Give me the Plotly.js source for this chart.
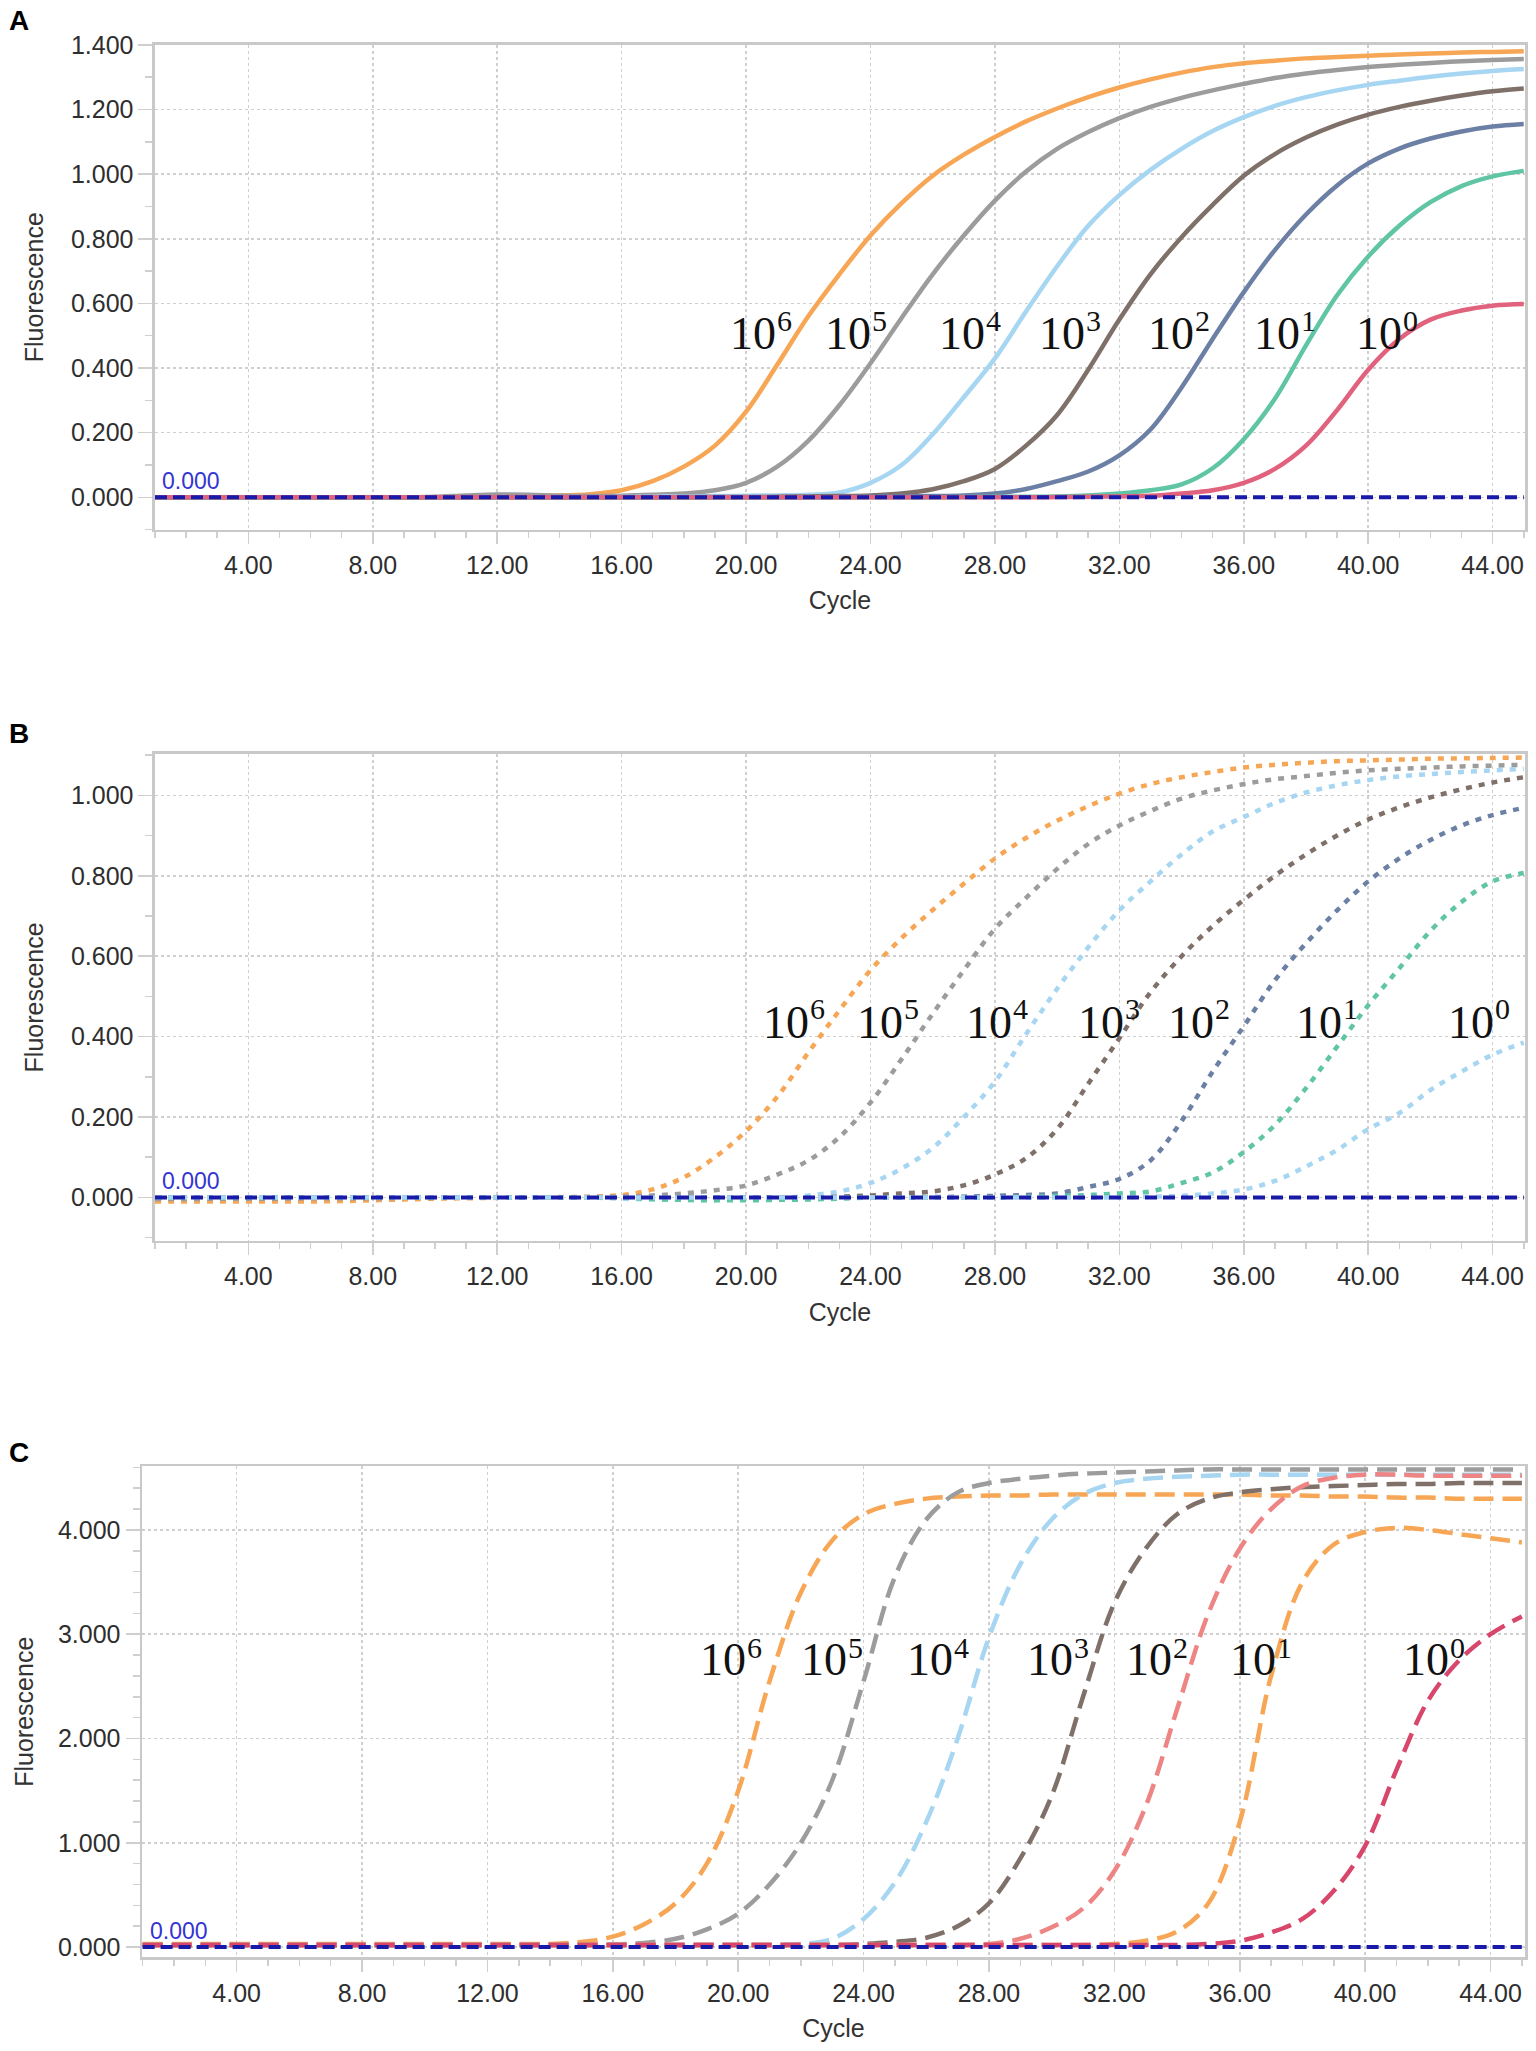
<!DOCTYPE html>
<html><head><meta charset="utf-8">
<script src="https://cdn.plot.ly/plotly-3.0.1.min.js"></script>
<style>html,body{margin:0;padding:0;background:#fff;}#chart{width:1536px;height:2051px;}</style>
</head><body><div id="chart"></div>
<script>
// ---------- DATA ----------
const cycles = [1,2,3,4,5,6,7,8,9,10,11,12,13,14,15,16,17,18,19,20,21,22,23,24,25,26,27,28,29,30,31,32,33,34,35,36,37,38,39,40,41,42,43,44,45];
const concBase = ['10','10','10','10','10','10','10'];
const concExp = ['6','5','4','3','2','1','0'];
const threshold = 0.000;

// Panel A (solid)
const a6 = [0,0,0,0,0,0,0,0,0,0, 0.002,0.004,0.006,0.006,0.01,0.022,0.05,0.095,0.16,0.265, 0.41,0.56,0.69,0.81,0.91,0.995,1.06,1.115,1.163,1.203, 1.238,1.268,1.293,1.314,1.331,1.343,1.351,1.358,1.362,1.366, 1.37,1.373,1.376,1.378,1.38];
const a5 = [0,0,0,0,0,0,0,0,0,0.002, 0.006,0.009,0.008,0.005,0.004,0.005,0.008,0.012,0.022,0.045, 0.095,0.175,0.285,0.415,0.555,0.69,0.81,0.918,1.008,1.078, 1.13,1.173,1.208,1.236,1.259,1.279,1.297,1.311,1.322,1.331, 1.338,1.344,1.349,1.353,1.356];
const a4 = [0,0,0,0,0,0,0,0,0,0, 0,0,0,0,0,0.001,0.002,0.003,0.004,0.005, 0.006,0.008,0.015,0.045,0.1,0.195,0.31,0.43,0.575,0.715, 0.84,0.935,1.013,1.078,1.133,1.176,1.211,1.238,1.259,1.276, 1.289,1.301,1.311,1.319,1.325];
const a3 = [0,0,0,0,0,0,0,0,0,0, 0,0,0,0,0,0,0,0.001,0.001,0.001, 0.002,0.003,0.004,0.006,0.012,0.025,0.05,0.088,0.16,0.255, 0.395,0.55,0.69,0.805,0.905,0.995,1.062,1.113,1.153,1.184, 1.208,1.227,1.243,1.256,1.265];
const a2 = [0,0,0,0,0,0,0,0,0,0, 0,0,0,0,0,0,0,0,0,0, 0,0,0.001,0.002,0.003,0.004,0.006,0.012,0.026,0.05, 0.08,0.13,0.21,0.34,0.49,0.635,0.765,0.875,0.965,1.033, 1.079,1.11,1.132,1.147,1.155];
const a1 = [0,0,0,0,0,0,0,0,0,0, 0,0,0,0,0,0,0,0,0,0, 0,0,0,0,0,0,0.001,0.002,0.002,0.003, 0.006,0.012,0.022,0.04,0.09,0.18,0.305,0.47,0.625,0.745, 0.84,0.913,0.963,0.993,1.01];
const a0 = [0,0,0,0,0,0,0,0,0,0, 0,0,0,0,0,0,0,0,0,0, 0,0,0,0,0,0,0,0,0,0.001, 0.002,0.003,0.005,0.012,0.022,0.045,0.088,0.16,0.27,0.395, 0.49,0.55,0.578,0.593,0.598];

// Panel B (dotted)
const b6 = [-0.01,-0.01,-0.01,-0.01,-0.01,-0.01,-0.009,-0.007,-0.005,-0.003, -0.002,-0.001,0,0.001,0.002,0.006,0.02,0.05,0.1,0.165, 0.25,0.36,0.465,0.565,0.645,0.715,0.78,0.843,0.894,0.937, 0.973,1.004,1.028,1.045,1.058,1.069,1.076,1.081,1.085,1.087, 1.089,1.091,1.092,1.093,1.094];
const b5 = [-0.004,-0.004,-0.003,-0.003,-0.003,-0.002,-0.002,-0.002,-0.001,-0.001, 0,0,0,0,0.001,0.002,0.005,0.01,0.018,0.03, 0.057,0.092,0.15,0.236,0.344,0.457,0.565,0.668,0.745,0.817, 0.879,0.925,0.961,0.992,1.012,1.028,1.04,1.048,1.056,1.062, 1.066,1.069,1.072,1.074,1.076];
const b4 = [0,0,0,0,0,0,0,0,0,0, 0,0,0,0,0,-0.003,-0.005,-0.006,-0.006,-0.005, -0.003,0.005,0.015,0.036,0.072,0.123,0.2,0.288,0.406,0.519, 0.622,0.714,0.786,0.853,0.91,0.946,0.981,1.007,1.025,1.038, 1.047,1.053,1.058,1.062,1.066];
const b3 = [0,0,0,0,0,0,0,0,0,0, 0,0,0,0,0,0,0,0,0,0, 0,0,0.002,0.005,0.01,0.015,0.03,0.057,0.098,0.17, 0.283,0.396,0.51,0.6,0.675,0.74,0.8,0.853,0.9,0.94, 0.97,0.995,1.015,1.032,1.045];
const b2 = [0,0,0,0,0,0,0,0,0,0, 0,0,0,0,0,0,0,0,0,0, 0,0,0,0,0,0.001,0.002,0.004,0.006,0.01, 0.026,0.046,0.092,0.19,0.313,0.426,0.54,0.632,0.714,0.786, 0.843,0.889,0.925,0.951,0.969];
const b1 = [0,0,0,0,0,0,0,0,0,0, 0,0,0,0,0,0,-0.004,-0.006,-0.007,-0.007, -0.006,-0.005,-0.003,0,0,0,0,0,0.002,0.004, 0.006,0.01,0.015,0.036,0.062,0.113,0.18,0.272,0.375,0.478, 0.57,0.663,0.735,0.786,0.807];
const b0 = [0,0,0,0,0,0,0,0,0,0, 0,0,0,0,0,0,0,0,0,0, 0,0,0,0,0,0,0,0,0,0, 0,0,0.002,0.004,0.01,0.02,0.041,0.077,0.118,0.17, 0.21,0.267,0.313,0.355,0.385];

// Panel C (dashed)
const c6 = [0.03,0.03,0.03,0.03,0.03,0.03,0.03,0.03,0.03,0.03, 0.03,0.03,0.03,0.03,0.05,0.1,0.22,0.42,0.8,1.5, 2.55,3.4,3.9,4.15,4.25,4.3,4.32,4.33,4.33,4.34, 4.34,4.34,4.34,4.34,4.34,4.34,4.33,4.33,4.32,4.32, 4.31,4.31,4.3,4.3,4.3];
const c5 = [0.02,0.02,0.02,0.02,0.02,0.02,0.02,0.02,0.02,0.02, 0.02,0.02,0.02,0.02,0.02,0.025,0.04,0.08,0.17,0.32, 0.6,1.0,1.6,2.55,3.55,4.1,4.36,4.45,4.49,4.52, 4.54,4.55,4.56,4.57,4.58,4.58,4.58,4.58,4.58,4.58, 4.58,4.58,4.58,4.58,4.58];
const c4 = [0.02,0.02,0.02,0.02,0.02,0.02,0.02,0.02,0.02,0.02, 0.02,0.02,0.02,0.02,0.02,0.02,0.02,0.02,0.02,0.02, 0.02,0.03,0.08,0.27,0.62,1.2,2.0,2.97,3.67,4.1, 4.34,4.45,4.49,4.51,4.52,4.53,4.53,4.53,4.53,4.53, 4.53,4.53,4.53,4.53,4.53];
const c3 = [0.02,0.02,0.02,0.02,0.02,0.02,0.02,0.02,0.02,0.02, 0.02,0.02,0.02,0.02,0.02,0.02,0.02,0.02,0.02,0.02, 0.02,0.02,0.02,0.03,0.05,0.09,0.2,0.42,0.85,1.45, 2.4,3.3,3.82,4.15,4.3,4.36,4.39,4.41,4.42,4.43, 4.44,4.44,4.45,4.45,4.45];
const c2 = [0.02,0.02,0.02,0.02,0.02,0.02,0.02,0.02,0.02,0.02, 0.02,0.02,0.02,0.02,0.02,0.02,0.02,0.02,0.02,0.02, 0.02,0.02,0.02,0.02,0.02,0.02,0.02,0.03,0.08,0.19, 0.37,0.73,1.35,2.28,3.2,3.82,4.2,4.42,4.5,4.53, 4.53,4.52,4.52,4.52,4.52];
const c1 = [0.02,0.02,0.02,0.02,0.02,0.02,0.02,0.02,0.02,0.02, 0.02,0.02,0.02,0.02,0.02,0.02,0.02,0.02,0.02,0.02, 0.02,0.02,0.02,0.02,0.02,0.02,0.02,0.02,0.02,0.02, 0.02,0.03,0.06,0.15,0.42,1.2,2.6,3.5,3.86,3.98, 4.02,4.0,3.96,3.92,3.88];
const c0 = [0.02,0.02,0.02,0.02,0.02,0.02,0.02,0.02,0.02,0.02, 0.02,0.02,0.02,0.02,0.02,0.02,0.02,0.02,0.02,0.02, 0.02,0.02,0.02,0.02,0.02,0.02,0.02,0.02,0.02,0.02, 0.02,0.02,0.02,0.02,0.03,0.06,0.14,0.27,0.54,0.97, 1.7,2.36,2.75,3.0,3.17];

// ---------- STYLE ----------
const colA = ['#F7A655','#9C9C9C','#A6D6F1','#7F716A','#6C80A5','#5FC5A5','#E1627C'];
const colB = ['#F7A655','#9C9C9C','#A6D6F1','#7F716A','#6C80A5','#5FC5A5','#A6D6F1'];
const colC = ['#F7A655','#9C9C9C','#A6D6F1','#7F716A','#EE8585','#F7A655','#D8476B'];
const seriesA = [a6,a5,a4,a3,a2,a1,a0];
const seriesB = [b6,b5,b4,b3,b2,b1,b0];
const seriesC = [c6,c5,c4,c3,c2,c1,c0];

const labelXA = [19.42,22.48,26.14,29.35,32.86,36.26,39.54], labelYA = 0.508;
const labelXB = [20.48,23.5,27.0,30.6,33.5,37.6,42.5], labelYB = 0.436;
const labelXC = [18.72,21.93,25.32,29.15,32.3,35.62,41.14], labelYC = 2.76;

const FONT = 'Liberation Sans, Arial, sans-serif';
const SERIF = 'Liberation Serif, Times New Roman, serif';
const tickFont = {family: FONT, size: 25, color: '#2e2e2e'};
const titleFont = {family: FONT, size: 25, color: '#333333'};
const gridC = '#cfcfcf';

const traces = [];
function addPanel(series, cols, xa, ya, dash, width) {
  series.forEach((s, i) => {
    traces.push({x: cycles, y: s, xaxis: xa, yaxis: ya, type: 'scatter', mode: 'lines',
      line: {color: cols[i], width: width, dash: dash, shape: 'spline', smoothing: 1},
      hoverinfo: 'skip', showlegend: false});
  });
  traces.push({x: [cycles[0], cycles[cycles.length - 1]], y: [threshold, threshold], xaxis: xa, yaxis: ya,
    type: 'scatter', mode: 'lines', line: {color: '#1a1aa8', width: 4, dash: '12px,6px'},
    hoverinfo: 'skip', showlegend: false});
}
addPanel(seriesA, colA, 'x', 'y', 'solid', 4.5);
addPanel(seriesB, colB, 'x2', 'y2', '6px,7px', 4.5);
addPanel(seriesC, colC, 'x3', 'y3', '20px,9px', 4.5);

function xAxis(domain, anchor, range) {
  return {domain: domain, anchor: anchor, range: range, showline: true, mirror: true,
    linecolor: '#c9c9c9', linewidth: 2.5, showgrid: true, gridcolor: gridC, griddash: 'dot', gridwidth: 1.5,
    zeroline: false, tick0: 0, dtick: 4, tickformat: '.2f', ticks: 'outside', ticklen: 12,
    tickcolor: gridC, tickwidth: 1.5, tickfont: tickFont,
    minor: {tick0: 0, dtick: 1, ticks: 'outside', ticklen: 6, tickcolor: gridC, tickwidth: 1.5, showgrid: false},
    title: {text: 'Cycle', font: titleFont, standoff: 14}, automargin: false, fixedrange: true};
}
function yAxis(domain, anchor, range, majorStep, minorStep, standoff) {
  return {domain: domain, anchor: anchor, range: range, showline: true, mirror: true,
    linecolor: '#c9c9c9', linewidth: 2.5, showgrid: true, gridcolor: gridC, griddash: 'dot', gridwidth: 1.5,
    zeroline: false, tick0: 0, dtick: majorStep, tickformat: '.3f', ticks: 'outside', ticklen: 14,
    tickcolor: gridC, tickwidth: 1.5, tickfont: tickFont,
    minor: {tick0: 0, dtick: minorStep, ticks: 'outside', ticklen: 7, tickcolor: gridC, tickwidth: 1.5, showgrid: false},
    title: {text: 'Fluorescence', font: titleFont, standoff: standoff}, automargin: false, fixedrange: true};
}

const annotations = [];
function addLabels(xs, y, xref, yref, supShift) {
  xs.forEach((x, i) => {
    annotations.push({x: x, y: y, xref: xref, yref: yref, text: concBase[i],
      showarrow: false, xanchor: 'left', yanchor: 'middle',
      font: {family: SERIF, size: 46, color: '#111111'}});
    annotations.push({x: x, y: y, xref: xref, yref: yref, text: concExp[i],
      showarrow: false, xanchor: 'left', yanchor: 'middle', xshift: 47, yshift: supShift,
      font: {family: SERIF, size: 30, color: '#111111'}});
  });
  annotations.push({x: cycles[0], y: threshold, xref: xref, yref: yref, text: threshold.toFixed(3),
    showarrow: false, xanchor: 'left', yanchor: 'bottom', xshift: 5, yshift: 1,
    font: {family: FONT, size: 23, color: '#3434d2'}});
}
addLabels(labelXA, labelYA, 'x', 'y', 13);
addLabels(labelXB, labelYB, 'x2', 'y2', 14);
addLabels(labelXC, labelYC, 'x3', 'y3', 12);
[['A', 0.9902], ['B', 0.6426], ['C', 0.292]].forEach(p => annotations.push({
  x: 19 / 1536, y: p[1], xref: 'paper', yref: 'paper', text: p[0], showarrow: false,
  xanchor: 'center', yanchor: 'middle', font: {family: FONT, size: 28, color: '#000', weight: 'bold'}}));

const layout = {
  width: 1536, height: 2051, margin: {l: 0, r: 0, t: 0, b: 0}, paper_bgcolor: '#fff', plot_bgcolor: '#fff',
  showlegend: false,
  xaxis: xAxis([0.10091, 0.99284], 'y', [1.0, 45.04]),
  yaxis: yAxis([0.74174, 0.97816], 'x', [-0.1, 1.4], 0.2, 0.1, 20),
  xaxis2: xAxis([0.10091, 0.99284], 'y2', [1.0, 45.04]),
  yaxis2: yAxis([0.39498, 0.63242], 'x2', [-0.108, 1.103], 0.2, 0.1, 20),
  xaxis3: xAxis([0.09245, 0.99284], 'y3', [0.98, 45.1]),
  yaxis3: yAxis([0.04573, 0.28508], 'x3', [-0.097, 4.61], 1, 0.2, 17),
  annotations: annotations
};
Plotly.newPlot('chart', traces, layout, {staticPlot: true, displayModeBar: false});
</script></body></html>
